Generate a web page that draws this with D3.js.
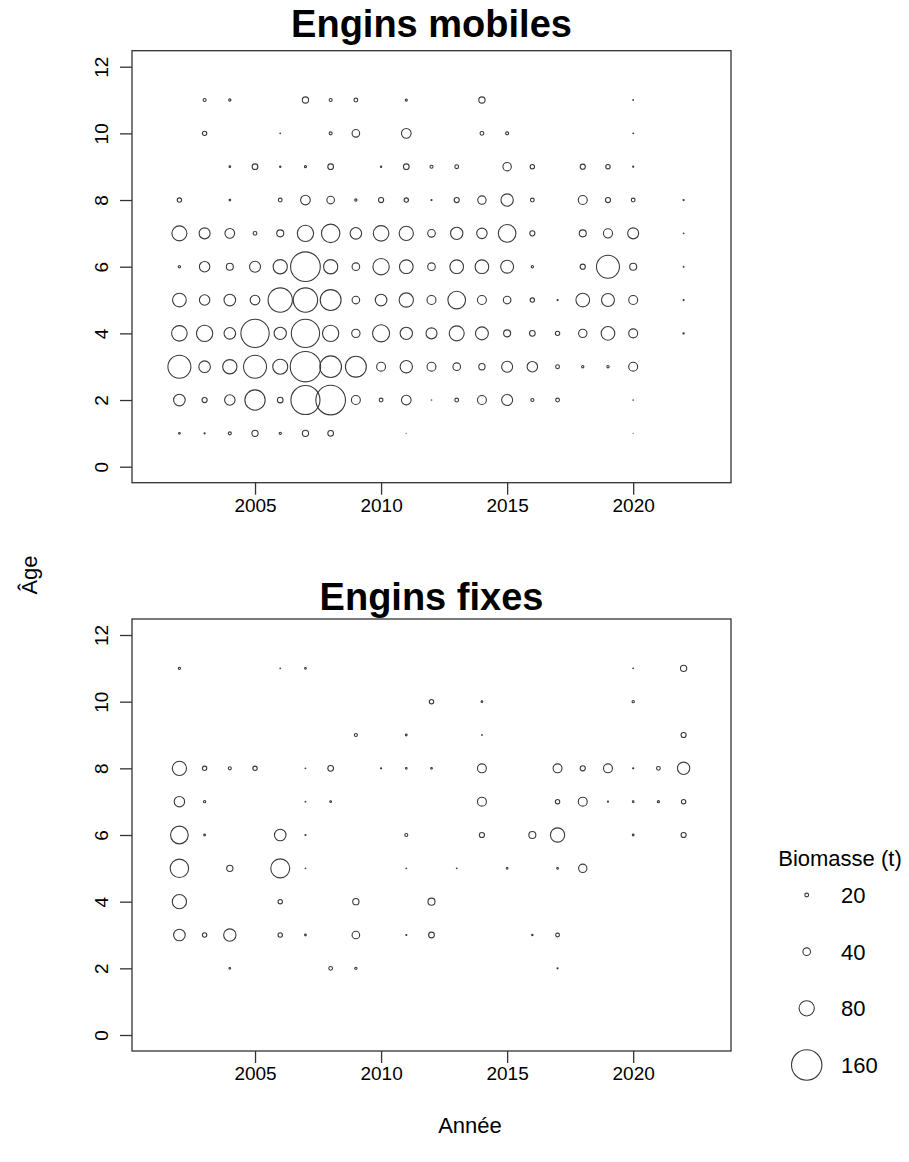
<!DOCTYPE html>
<html>
<head>
<meta charset="utf-8">
<script src="https://cdn.jsdelivr.net/npm/d3@7"></script>
<style>
  html, body { margin: 0; padding: 0; background: #fff; }
  svg { display: block; font-family: "Liberation Sans", Arial, sans-serif; }
</style>
</head>
<body>
<svg id="chart" width="909" height="1162"></svg>
<script>
// Years on the x axis, ages on the y axis
const years = d3.range(2002, 2023);
const ages = d3.range(1, 12);
const xTicks = [2005, 2010, 2015, 2020];
const yTicks = [0, 2, 4, 6, 8, 10, 12];
const legendValues = [20, 40, 80, 160];

// Biomass (t) by age (rows, age 1..11) and year (columns, 2002..2022)
const mobiles = [
  [9, 6, 16, 33, 12, 33, 30, 0, 0, 2, 0, 0, 0, 0, 0, 0, 0, 0, 2, 0, 0],
  [61, 27, 55, 107, 30, 153, 156, 47, 20, 51, 3, 20, 47, 58, 16, 20, 0, 0, 3, 0, 0],
  [121, 61, 75, 121, 79, 160, 114, 110, 47, 65, 47, 40, 33, 58, 55, 20, 12, 12, 47, 0, 0],
  [82, 86, 61, 149, 65, 149, 86, 44, 90, 65, 58, 79, 68, 37, 30, 23, 44, 72, 47, 0, 7],
  [72, 55, 61, 51, 128, 128, 110, 40, 61, 75, 47, 93, 47, 40, 23, 6, 72, 68, 47, 0, 6],
  [12, 55, 37, 58, 75, 156, 75, 40, 86, 72, 40, 72, 72, 68, 12, 0, 27, 121, 37, 0, 4],
  [79, 58, 51, 20, 37, 86, 97, 61, 82, 75, 40, 65, 55, 93, 27, 0, 37, 48, 58, 0, 4],
  [23, 0, 9, 0, 20, 51, 40, 12, 27, 23, 6, 27, 44, 65, 20, 0, 47, 27, 20, 0, 6],
  [0, 0, 9, 30, 7, 11, 30, 0, 7, 30, 16, 20, 0, 44, 23, 0, 27, 23, 6, 0, 0],
  [0, 23, 0, 0, 4, 0, 16, 40, 0, 51, 0, 0, 20, 16, 0, 0, 0, 0, 4, 0, 0],
  [0, 16, 12, 0, 0, 33, 16, 20, 0, 11, 0, 0, 33, 0, 0, 0, 0, 0, 4, 0, 0]
];

const fixes = [
  [0, 0, 0, 0, 0, 0, 0, 0, 0, 0, 0, 0, 0, 0, 0, 0, 0, 0, 0, 0, 0],
  [0, 0, 9, 0, 0, 0, 20, 12, 0, 0, 0, 0, 0, 0, 0, 6, 0, 0, 0, 0, 0],
  [61, 23, 65, 0, 23, 9, 0, 40, 0, 6, 30, 0, 0, 0, 7, 20, 0, 0, 0, 0, 0],
  [75, 0, 0, 0, 23, 0, 0, 33, 0, 0, 37, 0, 0, 0, 0, 0, 0, 0, 0, 0, 0],
  [97, 0, 33, 0, 100, 4, 0, 0, 0, 4, 0, 4, 0, 9, 0, 9, 44, 0, 0, 0, 0],
  [93, 9, 0, 0, 61, 6, 0, 0, 0, 16, 0, 0, 27, 0, 37, 75, 0, 0, 9, 0, 27],
  [55, 12, 0, 0, 0, 4, 9, 0, 0, 0, 0, 0, 47, 0, 0, 23, 47, 6, 9, 11, 23],
  [75, 23, 16, 23, 0, 4, 30, 0, 6, 9, 9, 0, 47, 0, 0, 47, 27, 47, 6, 20, 65],
  [0, 0, 0, 0, 0, 0, 0, 16, 0, 9, 0, 0, 4, 0, 0, 0, 0, 0, 0, 0, 27],
  [0, 0, 0, 0, 0, 0, 0, 0, 0, 0, 23, 0, 9, 0, 0, 0, 0, 0, 12, 0, 0],
  [12, 0, 0, 0, 4, 9, 0, 0, 0, 0, 0, 0, 0, 0, 0, 0, 0, 0, 4, 0, 33]
];

const svg = d3.select("#chart");
const ink = "#333";
const tickFont = 19;

const x = d3.scaleLinear().domain([2000.12, 2023.88]).range([132, 731]);
const r = d3.scaleLinear().domain([0, 160]).range([0, 15.2]);

function panel(title, data, top, bottom, titleY) {
  const y = d3.scaleLinear().domain([-0.48, 12.48]).range([bottom, top]);
  const g = svg.append("g");

  const pts = [];
  data.forEach((row, i) => row.forEach((v, j) => {
    if (v > 0) pts.push({ year: years[j], age: ages[i], value: v });
  }));

  g.selectAll("circle.b").data(pts).join("circle")
    .attr("class", "b")
    .attr("cx", d => x(d.year))
    .attr("cy", d => y(d.age))
    .attr("r", d => r(d.value))
    .attr("fill", "none")
    .attr("stroke", "#3a3a3a")
    .attr("stroke-width", 1.1);

  // frame
  g.append("rect")
    .attr("x", x.range()[0]).attr("y", top)
    .attr("width", x.range()[1] - x.range()[0]).attr("height", bottom - top)
    .attr("fill", "none").attr("stroke", ink).attr("stroke-width", 1.3);

  // x axis
  const xAxis = d3.axisBottom(x).tickValues(xTicks).tickFormat(d3.format("d"))
    .tickSize(12).tickPadding(4);
  const gx = g.append("g").attr("transform", `translate(0,${bottom})`).call(xAxis);
  gx.select(".domain").remove();
  gx.selectAll("line").attr("stroke", ink).attr("stroke-width", 1.3);
  gx.selectAll("text").attr("font-size", tickFont).attr("fill", "#000")
    .attr("font-family", "Liberation Sans, Arial, sans-serif");

  // y axis with labels parallel to the axis
  const yAxis = d3.axisLeft(y).tickValues(yTicks).tickFormat(d3.format("d"))
    .tickSize(12).tickPadding(0);
  const gy = g.append("g").attr("transform", `translate(${x.range()[0]},0)`).call(yAxis);
  gy.select(".domain").remove();
  gy.selectAll("line").attr("stroke", ink).attr("stroke-width", 1.3);
  gy.selectAll("text")
    .attr("font-size", tickFont).attr("fill", "#000")
    .attr("font-family", "Liberation Sans, Arial, sans-serif")
    .attr("x", 0)
    .attr("text-anchor", "middle")
    .attr("transform", "translate(-31,0) rotate(-90)")
    .attr("dy", "0.35em");

  svg.append("text")
    .attr("x", (x.range()[0] + x.range()[1]) / 2)
    .attr("y", titleY)
    .attr("text-anchor", "middle")
    .attr("font-size", 38).attr("font-weight", "bold")
    .text(title);
}

panel("Engins mobiles", mobiles, 50.7, 482.7, 37);
panel("Engins fixes", fixes, 619, 1051, 610);

// axis titles
svg.append("text")
  .attr("transform", "translate(37,575) rotate(-90)")
  .attr("text-anchor", "middle")
  .attr("font-size", 22)
  .text("Âge");

svg.append("text")
  .attr("x", 470).attr("y", 1133)
  .attr("text-anchor", "middle")
  .attr("font-size", 22)
  .text("Année");

// size legend
const legend = svg.append("g");
legend.append("text")
  .attr("x", 840).attr("y", 866)
  .attr("text-anchor", "middle")
  .attr("font-size", 22)
  .text("Biomasse (t)");

const ly = d3.scalePoint().domain(legendValues).range([895, 1065]);
const item = legend.selectAll("g.item").data(legendValues).join("g")
  .attr("class", "item")
  .attr("transform", d => `translate(0,${ly(d)})`);
item.append("circle")
  .attr("cx", 806.7).attr("cy", 0)
  .attr("r", d => r(d))
  .attr("fill", "none").attr("stroke", "#3a3a3a").attr("stroke-width", 1.1);
item.append("text")
  .attr("x", 841).attr("y", 0).attr("dy", "0.36em")
  .attr("font-size", 22)
  .text(d => d);
</script>
</body>
</html>
